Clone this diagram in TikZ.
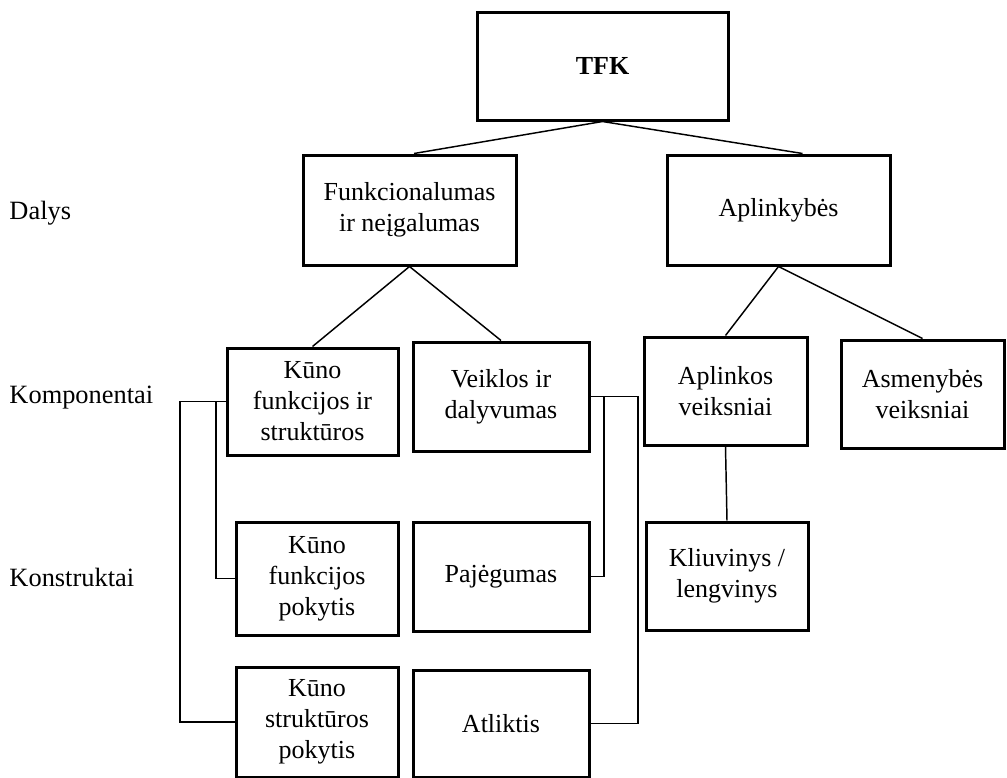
\documentclass[tikz,border=0pt]{standalone}
\usepackage{fontspec}
\setmainfont{Liberation Serif}

\tikzset{every picture/.style={line width=0.75pt}}
\tikzset{
  blok/.style 2 args={draw, line width=2.25pt, align=center, inner sep=1pt,
    minimum width=#1*0.75pt, minimum height=#2*0.75pt,
    font=\fontsize{19.5}{23.2}\selectfont},
  jung/.style={line width=1.1pt},
  lygis/.style={anchor=west, inner sep=0pt, font=\fontsize{19.8}{24}\selectfont}
}

\begin{document}
\begin{tikzpicture}[x=0.75pt,y=0.75pt,yscale=-1,xscale=1]
	\useasboundingbox (0,0) rectangle (1007,778);
	
	%Lygiai
	\node[lygis] (dalys) at (9,213) {Dalys};
	\node[lygis] (komp) at (9,398) {Komponentai};
	\node[lygis] (konst) at (9,577) {Konstruktai};
	
	%Blokai
	\node[blok={251}{108}] (tfk) at (602.5,66) {\textbf{TFK}};
	\node[blok={213}{110}] (funk) at (409.5,210) {Funkcionalumas\\ir neįgalumas};
	\node[blok={223}{110}] (apl) at (778.5,210) {Aplinkybės};
	\node[blok={171}{107}] (kfs) at (312.5,401.5) {Kūno\\funkcijos ir\\struktūros};
	\node[blok={176}{109}] (veik) at (501,396.5) {Veiklos ir\\dalyvumas};
	\node[blok={163}{108}] (aplv) at (725.5,391) {Aplinkos\\veiksniai};
	\node[blok={163}{108}] (asm) at (922.5,394) {Asmenybės\\veiksniai};
	\node[blok={162}{113}] (kfp) at (317,578.5) {Kūno\\funkcijos\\pokytis};
	\node[blok={176}{109}] (paj) at (501,576.5) {Pajėgumas};
	\node[blok={162}{108}] (kliu) at (727,576) {Kliuvinys /\\lengvinys};
	\node[blok={162}{110}] (ksp) at (317,722) {Kūno\\struktūros\\pokytis};
	\node[blok={176}{107}] (atl) at (501,723.5) {Atliktis};
	
	%Jungtys
	\draw[jung] (tfk.south) -- ([xshift=3.4pt]funk.north);
	\draw[jung] (tfk.south) -- ([xshift=18pt]apl.north);
	\draw[jung] (funk.south) -- (kfs.north);
	\draw[jung] (funk.south) -- (veik.north);
	\draw[jung] (apl.south) -- (aplv.north);
	\draw[jung] (apl.south) -- (asm.north);
	\draw[jung] (aplv.south) -- (kliu.north);
	
	%Skliaustai
	\coordinate (kair) at (180,0);
	\coordinate (kair2) at (216,0);
	\coordinate (des) at (638,0);
	\coordinate (des2) at (604,0);
	\draw[jung] (kfs.west) -- (kfs.west -| kair) |- (ksp.west);
	\draw[jung] (kfs.west -| kair2) |- (kfp.west);
	\draw[jung] (veik.east) -- (veik.east -| des) |- (atl.east);
	\draw[jung] (veik.east -| des2) |- (paj.east);
	
\end{tikzpicture}
\end{document}
